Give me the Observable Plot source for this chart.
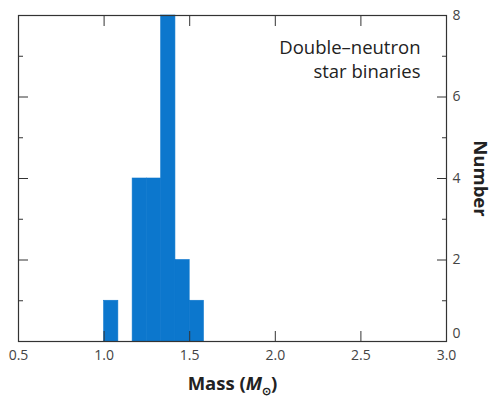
<!DOCTYPE html>
<html>
<head>
<meta charset="utf-8">
<script src="https://cdn.jsdelivr.net/npm/d3@7"></script>
<script src="https://cdn.jsdelivr.net/npm/@observablehq/plot@0.6"></script>
<style>
  html, body { margin: 0; padding: 0; background: #fff; }
</style>
</head>
<body>
<div id="chart"></div>
<script>
// Histogram bins (mass in solar masses) and counts
const binStart = [1.0, 1.1667, 1.25, 1.3333, 1.4167, 1.5];
const binEnd   = [1.0833, 1.25, 1.3333, 1.4167, 1.5, 1.5833];
const counts   = [1, 4, 4, 8, 2, 1];

// Tick values
const xTicks = [0.5, 1.0, 1.5, 2.0, 2.5, 3.0];
const yMajor = [2, 4, 6, 8];
const yZero = [0];
const yMinor = [1, 3, 5, 7];

const bins = binStart.map((s, i) => ({x1: s, x2: binEnd[i], count: counts[i]}));

const font = "'Open Sans', 'Noto Sans', sans-serif";
const ink = "#333";

const chart = Plot.plot({
  width: 494,
  height: 401,
  marginLeft: 18,
  marginRight: 48,
  marginTop: 15,
  marginBottom: 60,
  style: {fontFamily: font, fontSize: "14px", color: ink, background: "#fff"},
  x: {domain: [0.5, 3.0]},
  y: {domain: [0, 8]},
  marks: [
    Plot.rectY(bins, {x1: "x1", x2: "x2", y: "count", fill: "#0c77cd", inset: 0, stroke: "#0c77cd", strokeWidth: 0.6}),
    Plot.frame({stroke: ink, strokeWidth: 1.2}),
    // bottom axis
    Plot.axisX(xTicks, {anchor: "bottom", tickSize: -10, tickPadding: 19, tickFormat: d3.format(".1f"), label: null, fill: "#444"}),
    // top axis ticks
    Plot.axisX(xTicks, {anchor: "top", tickSize: -10, tickFormat: () => "", label: null}),
    // right axis
    Plot.axisY(yMajor, {anchor: "right", tickSize: -10, tickPadding: 16, label: null, fill: "#444"}),
    Plot.axisY(yZero, {anchor: "right", tickSize: 0, tickPadding: 6, dy: -8, label: null, fill: "#444"}),
    Plot.axisY(yMinor, {anchor: "right", tickSize: -5, tickFormat: () => "", label: null}),
    // left axis ticks
    Plot.axisY([0, ...yMajor], {anchor: "left", tickSize: -10, tickFormat: () => "", label: null}),
    Plot.axisY(yMinor, {anchor: "left", tickSize: -5, tickFormat: () => "", label: null}),
    // axis titles
    Plot.text(["Number"], {frameAnchor: "right", textAnchor: "middle", dx: 33, rotate: 90, fontWeight: "bold", fontSize: 18.5, fill: "#222"}),
    Plot.text(["Mass (M⊙)"], {frameAnchor: "bottom", textAnchor: "middle", dy: 48, fontWeight: "bold", fontSize: 18.5, fill: "#222"}),
    // annotation
    Plot.text(["Double–neutron\nstar binaries"], {frameAnchor: "top-right", dx: -26, dy: 22, textAnchor: "end", lineAnchor: "top", fontSize: 18.5, lineHeight: 1.28, fill: "#222"})
  ]
});

// Rich formatting for the x-axis title: italic M with a subscript sun symbol
d3.select(chart).selectAll("text").filter(function() { return this.textContent === "Mass (M⊙)"; }).each(function() {
  const t = d3.select(this);
  t.text(null);
  t.append("tspan").text("Mass (");
  t.append("tspan").attr("font-style", "italic").text("M");
  t.append("tspan").attr("font-size", 11).attr("dy", 5).text("⊙");
  t.append("tspan").attr("dy", -5).text(")");
});

document.getElementById("chart").appendChild(chart);
</script>
</body>
</html>
